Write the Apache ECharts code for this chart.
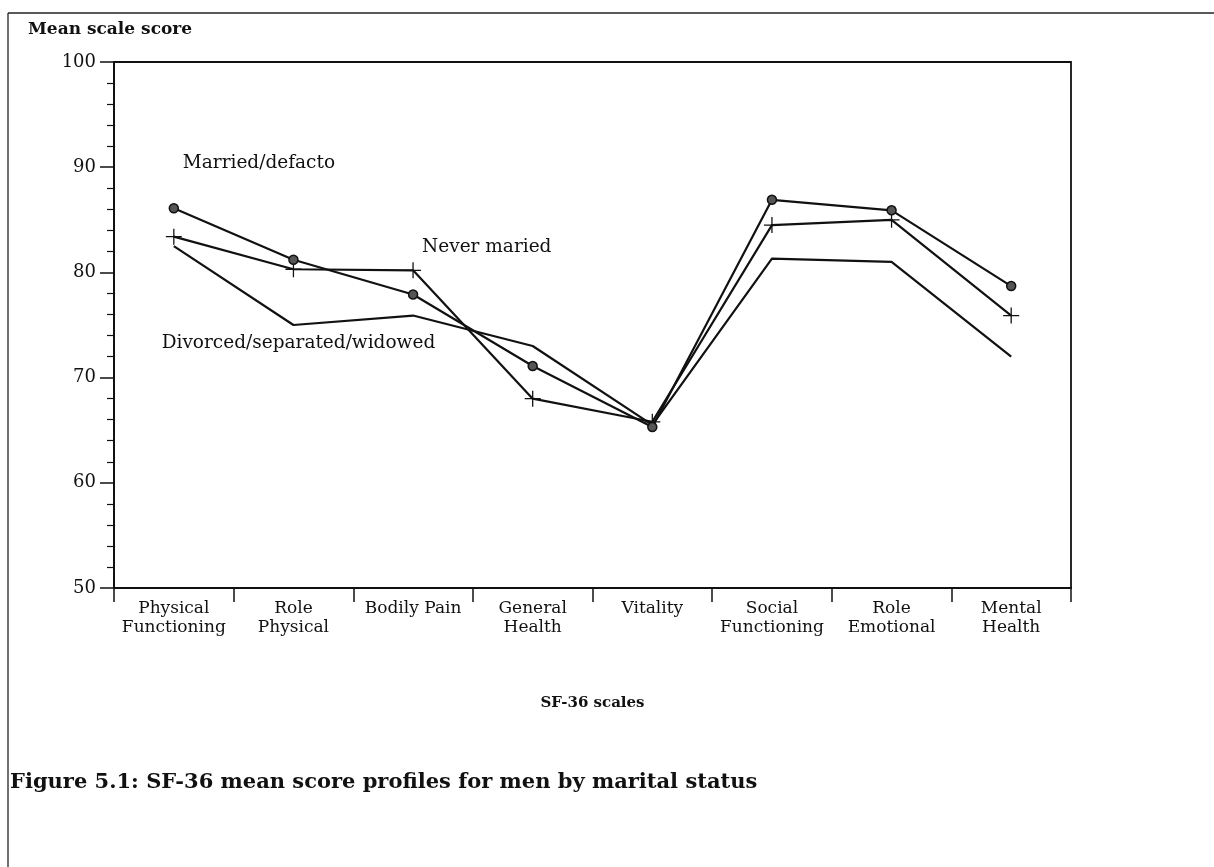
<!DOCTYPE html>
<html>
<head>
<meta charset="utf-8">
<title>SF-36 mean score profiles for men by marital status</title>
<script src="https://cdn.jsdelivr.net/npm/echarts@6/dist/echarts.min.js"></script>
<style>
  html, body { margin: 0; padding: 0; background: #fff; }
  #chart { width: 1214px; height: 867px; }
</style>
</head>
<body>
<div id="chart"></div>
<script>
// scales on the x axis
var scales = [
  "Physical\nFunctioning", "Role\nPhysical", "Bodily Pain", "General\nHealth",
  "Vitality", "Social\nFunctioning", "Role\nEmotional", "Mental\nHealth"
];
// mean scale scores
var married = [86.1, 81.2, 77.9, 71.1, 65.3, 86.9, 85.9, 78.7];
var neverMarried = [83.4, 80.3, 80.2, 68.0, 65.8, 84.5, 85.0, 75.9];
var divorced = [82.5, 75.0, 75.9, 73.0, 65.5, 81.3, 81.0, 72.0];
var yTicks = [50, 60, 70, 80, 90, 100];

var serif = "DejaVu Serif";
var chart = echarts.init(document.getElementById("chart"));

// plus sign, drawn as two filled bars
var cross = "path://M0,4.6h10v0.8h-10z M4.6,0h0.8v10h-0.8z";

var option = {
  animation: false,
  backgroundColor: "#fff",
  title: [
    {
      text: "Mean scale score",
      left: 23, top: 16,
      textStyle: { fontFamily: serif, fontSize: 17, fontWeight: "bold", color: "#111" }
    },
    {
      text: "Figure 5.1: SF-36 mean score profiles for men by marital status",
      left: 5, top: 767,
      textStyle: { fontFamily: serif, fontSize: 21, fontWeight: "bold", color: "#111" }
    }
  ],
  grid: {
    left: 114, right: 143, top: 62, bottom: 279,
    show: true, borderColor: "#111", borderWidth: 1.8
  },
  xAxis: {
    type: "category",
    data: scales,
    boundaryGap: true,
    name: "SF-36 scales",
    nameLocation: "middle",
    nameGap: 108,
    nameTextStyle: { fontFamily: serif, fontSize: 15, fontWeight: "bold", color: "#111" },
    axisLine: { lineStyle: { color: "#111", width: 2 } },
    axisTick: { show: true, length: 14, alignWithLabel: false, lineStyle: { color: "#111", width: 1.5 } },
    axisLabel: {
      interval: 0, margin: 11,
      fontFamily: serif, fontSize: 17, lineHeight: 19, color: "#111"
    },
    splitLine: { show: false }
  },
  yAxis: {
    type: "value",
    min: yTicks[0], max: yTicks[yTicks.length - 1], interval: 10,
    axisLine: { show: true, lineStyle: { color: "#111", width: 2 } },
    axisTick: { show: true, length: 14, lineStyle: { color: "#111", width: 1.5 } },
    minorTick: { show: true, splitNumber: 5, length: 7, lineStyle: { color: "#111", width: 1.2 } },
    axisLabel: { margin: 18, fontFamily: serif, fontSize: 18, color: "#111" },
    splitLine: { show: false }
  },
  series: [
    {
      name: "Married/defacto",
      type: "line",
      data: married,
      symbol: "circle",
      symbolSize: 9,
      lineStyle: { color: "#111", width: 2.2 },
      itemStyle: { color: "#555", borderColor: "#111", borderWidth: 1.5 },
      z: 3
    },
    {
      name: "Never maried",
      type: "line",
      data: neverMarried,
      symbol: cross,
      symbolSize: 16,
      lineStyle: { color: "#111", width: 2.2 },
      itemStyle: { color: "#111" },
      z: 2
    },
    {
      name: "Divorced/separated/widowed",
      type: "line",
      data: divorced,
      symbol: "none",
      lineStyle: { color: "#111", width: 2.2 },
      z: 1
    }
  ]
};
chart.setOption(option);

// series labels, anchored to data points through the chart's scales
function at(idx, val) {
  return chart.convertToPixel({ gridIndex: 0 }, [idx, val]);
}
var pMar = at(0, married[0]);
var pNev = at(2, neverMarried[2]);
var pDiv = at(1, divorced[1]);
var labelStyle = { fontFamily: serif, fontSize: 18.5, fill: "#111" };

chart.setOption({
  graphic: [
    { type: "line", shape: { x1: 8, y1: 13, x2: 1214, y2: 13 }, style: { stroke: "#222", lineWidth: 1.3 } },
    { type: "line", shape: { x1: 8, y1: 13, x2: 8, y2: 867 }, style: { stroke: "#222", lineWidth: 1.3 } },
    {
      type: "text", x: pMar[0] + 9, y: pMar[1] - 45,
      style: Object.assign({ text: "Married/defacto", align: "left", verticalAlign: "middle" }, labelStyle)
    },
    {
      type: "text", x: pNev[0] + 9, y: pNev[1] - 23,
      style: Object.assign({ text: "Never maried", align: "left", verticalAlign: "middle" }, labelStyle)
    },
    {
      type: "text", x: pDiv[0] + 5, y: pDiv[1] + 18,
      style: Object.assign({ text: "Divorced/separated/widowed", align: "center", verticalAlign: "middle" }, labelStyle)
    }
  ]
});
</script>
</body>
</html>
